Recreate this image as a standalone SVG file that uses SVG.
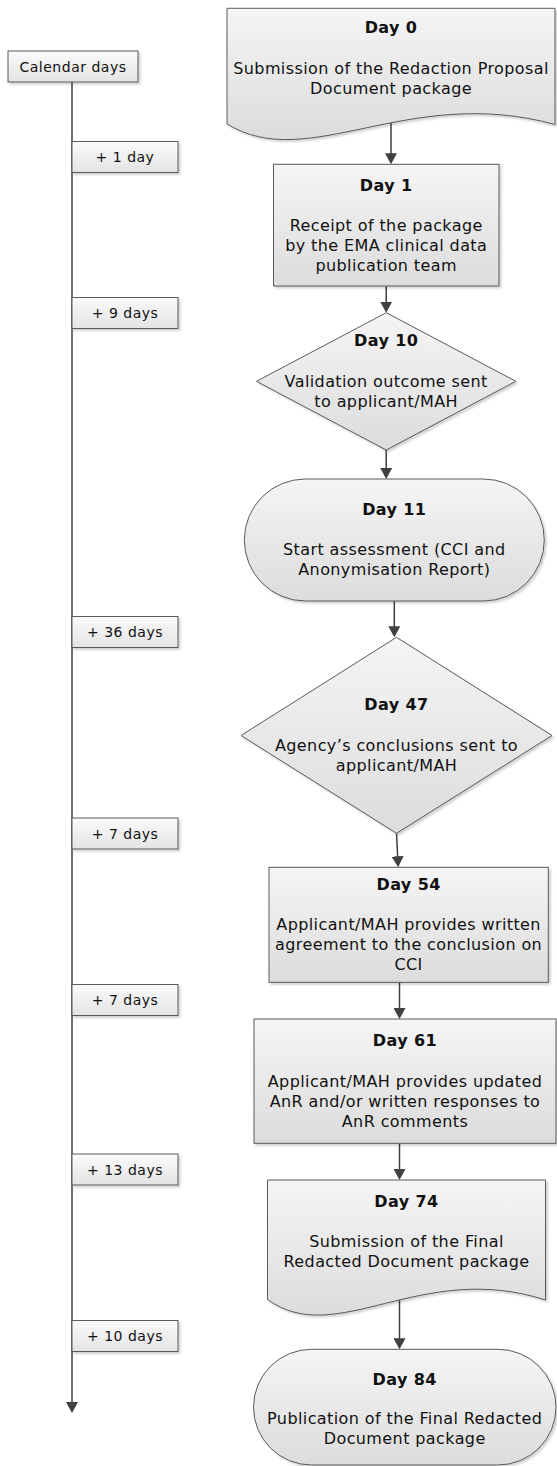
<svg xmlns="http://www.w3.org/2000/svg" width="557" height="1466" viewBox="0 0 557 1466">
<style>
.node{fill:url(#gNode);stroke:#5a5a5a;stroke-width:1;filter:url(#sh)}
.lab{fill:url(#gLab);stroke:#5a5a5a;stroke-width:1;filter:url(#sh)}
.conn{fill:none;stroke:#404040;stroke-width:1.5;marker-end:url(#arr)}
text{font-family:"DejaVu Sans","Liberation Sans",sans-serif;fill:#111;text-anchor:middle}
.t{font-size:16px;letter-spacing:0.4px}
.b{font-size:16px;font-weight:bold;letter-spacing:0.4px}
.l{font-size:14px;letter-spacing:0.5px}
</style>
<defs>
<linearGradient id="gNode" x1="0" y1="0" x2="0" y2="1"><stop offset="0" stop-color="#f5f5f5"/><stop offset="1" stop-color="#dcdcdc"/></linearGradient>
<linearGradient id="gLab" x1="0" y1="0" x2="0" y2="1"><stop offset="0" stop-color="#fbfbfb"/><stop offset="1" stop-color="#e3e3e3"/></linearGradient>
<filter id="sh" x="-5%" y="-5%" width="115%" height="115%"><feDropShadow dx="2" dy="2" stdDeviation="1" flood-color="#000" flood-opacity="0.18"/></filter>
<marker id="arr" markerUnits="userSpaceOnUse" markerWidth="12" markerHeight="12" refX="3" refY="6" orient="auto"><path d="M0,0 L11,6 L0,12 Z" fill="#404040"/></marker>
</defs>
<g id="connectors">
<line class="conn" x1="72" y1="82" x2="72" y2="1405"/>
<line class="conn" x1="391" y1="123" x2="391" y2="156.3"/>
<line class="conn" x1="386.2" y1="286" x2="386.2" y2="304.7"/>
<line class="conn" x1="386.2" y1="450" x2="386.2" y2="471"/>
<line class="conn" x1="394.3" y1="601" x2="394.3" y2="629.3"/>
<line class="conn" x1="396.5" y1="833.3" x2="397.8" y2="859.3"/>
<line class="conn" x1="399.5" y1="982.3" x2="399.5" y2="1011"/>
<line class="conn" x1="399.5" y1="1143.3" x2="399.5" y2="1172"/>
<line class="conn" x1="399.5" y1="1300" x2="399.5" y2="1341.3"/>
</g>
<g id="calendar"><rect class="lab" x="8" y="51" width="130" height="31"/><text class="l" x="73" y="71.5">Calendar days</text></g>
<g id="plus1"><rect class="lab" x="72" y="141.5" width="106" height="31"/><text class="l" x="125" y="162">+ 1 day</text></g>
<g id="plus9"><rect class="lab" x="72" y="297.5" width="106" height="31"/><text class="l" x="125" y="318">+ 9 days</text></g>
<g id="plus36"><rect class="lab" x="72" y="616.5" width="106" height="31"/><text class="l" x="125" y="637">+ 36 days</text></g>
<g id="plus7a"><rect class="lab" x="72" y="818" width="106" height="31"/><text class="l" x="125" y="838.5">+ 7 days</text></g>
<g id="plus7b"><rect class="lab" x="72" y="984.5" width="106" height="31"/><text class="l" x="125" y="1005">+ 7 days</text></g>
<g id="plus13"><rect class="lab" x="72" y="1154" width="106" height="31"/><text class="l" x="125" y="1174.5">+ 13 days</text></g>
<g id="plus10"><rect class="lab" x="72" y="1320.5" width="106" height="31"/><text class="l" x="125" y="1341">+ 10 days</text></g>
<g id="day0"><path class="node" d="M227,8.3 H555 V124.5 C407.4,84 309,174 227,124 Z"/>
<text class="b" x="391" y="33.3">Day 0</text>
<text class="t" x="391" y="74">Submission of the Redaction Proposal</text>
<text class="t" x="391" y="93.7">Document package</text></g>
<g id="day1"><rect class="node" x="273.5" y="164.3" width="225.5" height="121.7"/>
<text class="b" x="386.2" y="191">Day 1</text>
<text class="t" x="386.2" y="231">Receipt of the package</text>
<text class="t" x="386.2" y="251">by the EMA clinical data</text>
<text class="t" x="386.2" y="271">publication team</text></g>
<g id="day10"><polygon class="node" points="386.2,312.7 515.8,381.3 386.2,450 256.5,381.3"/>
<text class="b" x="386.2" y="346">Day 10</text>
<text class="t" x="386.2" y="386.5">Validation outcome sent</text>
<text class="t" x="386.2" y="406.5">to applicant/MAH</text></g>
<g id="day11"><rect class="node" x="244.3" y="479" width="300" height="122" rx="61" ry="61"/>
<text class="b" x="394.3" y="515">Day 11</text>
<text class="t" x="394.3" y="555">Start assessment (CCI and</text>
<text class="t" x="394.3" y="575">Anonymisation Report)</text></g>
<g id="day47"><polygon class="node" points="396.5,637.3 552,735.5 396.5,833.3 241,735.5"/>
<text class="b" x="396.5" y="710">Day 47</text>
<text class="t" x="396.5" y="750.5">Agency’s conclusions sent to</text>
<text class="t" x="396.5" y="770.5">applicant/MAH</text></g>
<g id="day54"><rect class="node" x="269" y="867.3" width="279.3" height="115"/>
<text class="b" x="408.6" y="890">Day 54</text>
<text class="t" x="408.6" y="930">Applicant/MAH provides written</text>
<text class="t" x="408.6" y="950">agreement to the conclusion on</text>
<text class="t" x="408.6" y="970">CCI</text></g>
<g id="day61"><rect class="node" x="254" y="1019" width="302" height="124.3"/>
<text class="b" x="405" y="1046">Day 61</text>
<text class="t" x="405" y="1086.7">Applicant/MAH provides updated</text>
<text class="t" x="405" y="1106.7">AnR and/or written responses to</text>
<text class="t" x="405" y="1126.7">AnR comments</text></g>
<g id="day74"><path class="node" d="M267.5,1180 H545.5 V1300 C420.4,1259.5 337,1349.5 267.5,1299.5 Z"/>
<text class="b" x="406.5" y="1206.7">Day 74</text>
<text class="t" x="406.5" y="1246.7">Submission of the Final</text>
<text class="t" x="406.5" y="1266.7">Redacted Document package</text></g>
<g id="day84"><rect class="node" x="253.5" y="1349.3" width="302.5" height="115.7" rx="58" ry="58"/>
<text class="b" x="404.7" y="1385">Day 84</text>
<text class="t" x="404.7" y="1424">Publication of the Final Redacted</text>
<text class="t" x="404.7" y="1443.5">Document package</text></g>
</svg>
